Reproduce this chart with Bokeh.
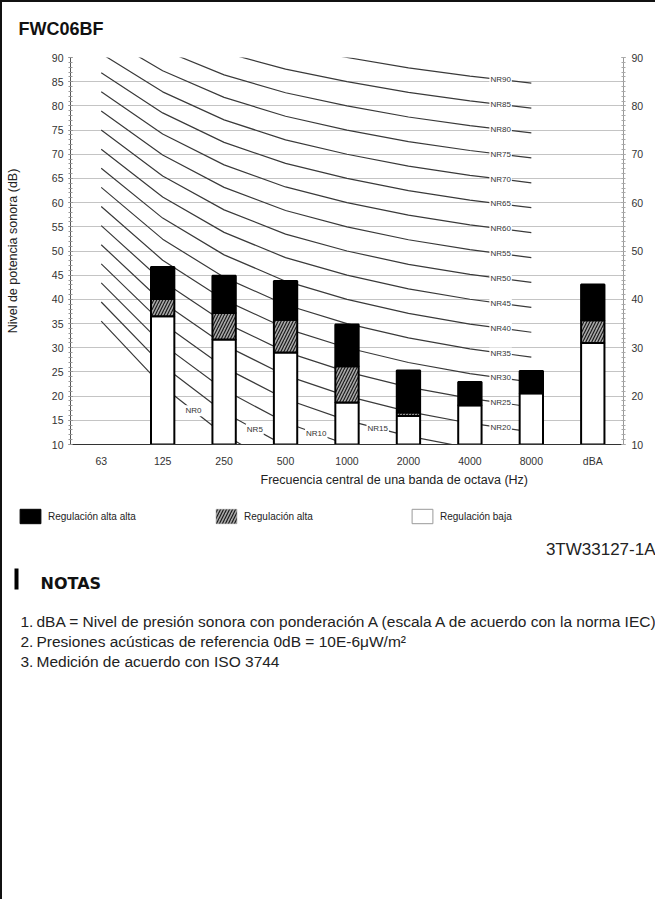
import numpy as np
from bokeh.plotting import figure
from bokeh.models import (Range1d, FixedTicker, SingleIntervalTicker, LinearAxis,
                          Legend, LegendItem, ColumnDataSource, Title)
from bokeh.embed import file_html
from bokeh.resources import INLINE
from bokeh.core.properties import value

# ---------------- data ----------------
categories = ["63", "125", "250", "500", "1000", "2000", "4000", "8000", "dBA"]
reg_baja = [None, 36.5, 31.7, 29.0, 18.7, 15.9, 18.1, 20.6, 31.0]
reg_alta = [None, 40.1, 37.2, 35.8, 26.2, 16.6, 18.1, 20.6, 35.7]
reg_alta_alta = [None, 46.7, 44.9, 43.8, 34.8, 25.3, 22.9, 25.2, 43.1]

# Noise Rating curves (octave bands 63..8000 Hz): L = a + b * NR
nr_bands = ["63", "125", "250", "500", "1000", "2000", "4000", "8000"]
nr_a = [35.5, 22.0, 12.0, 4.8, 0.0, -3.5, -6.1, -8.0]
nr_b = [0.790, 0.870, 0.930, 0.974, 1.000, 1.015, 1.025, 1.030]
nr_levels = [0, 5, 10, 15, 20, 25, 30, 35, 40, 45, 50, 55, 60, 65, 70, 75, 80, 85, 90]
# band index left of each NR label
nr_label_band = [1, 2, 3, 4, 6, 6, 6, 6, 6, 6, 6, 6, 6, 6, 6, 6, 6, 6, 6]

y_min, y_max = 10, 90

chart_title = "FWC06BF"
legend_labels = ["Regulación alta alta", "Regulación alta", "Regulación baja"]
doc_code = "3TW33127-1A"
notes_title = "NOTAS"
notes = [
    "dBA = Nivel de presión sonora con ponderación A (escala A de acuerdo con la norma IEC)",
    "Presiones acústicas de referencia 0dB = 10E-6μW/m²",
    "Medición de acuerdo con ISO 3744",
]

# ---------------- layout ----------------
W = 655
HH = 40
H1 = 462
H2 = 899 - HH - H1
FONT = "Liberation Sans"
BORDER = "2px solid #111111"

xpos = {c: i + 0.5 for i, c in enumerate(categories)}

# ---------------- header ----------------
h = figure(width=W, height=HH, x_range=Range1d(0, W), y_range=Range1d(HH, 0),
           x_axis_type=None, y_axis_type=None, output_backend="svg",
           toolbar_location=None, min_border=0)
h.outline_line_color = None
h.styles = {"border-left": BORDER, "border-top": BORDER}
h.text(x=[16], y=[26], text=[chart_title], text_font=value(FONT),
       text_font_size="18px", text_font_style="bold", text_color="#111111",
       text_align="left", text_baseline="middle")

# ---------------- chart ----------------
p = figure(width=W, height=H1, x_range=Range1d(0, len(categories)),
           y_range=Range1d(y_min, y_max), output_backend="svg", title=None,
           toolbar_location=None, min_border_left=65, min_border_right=34,
           min_border_top=17, min_border_bottom=58)
p.outline_line_color = None
p.background_fill_color = "white"
p.styles = {"border-left": BORDER}

# axes
p.xaxis.ticker = FixedTicker(ticks=[xpos[c] for c in categories])
p.xaxis.major_label_overrides = {xpos[c]: c for c in categories}
p.xaxis.major_tick_line_color = None
p.xaxis.minor_tick_line_color = None
p.xaxis.axis_line_color = "#333333"
p.xaxis.major_label_standoff = 4
p.xaxis.major_label_text_font = FONT
p.xaxis.major_label_text_font_size = "10.5px"
p.xaxis.major_label_text_color = "#333333"

xlabel = Title(text="Frecuencia central de una banda de octava (Hz)", align="left",
               offset=190, vertical_align="top", standoff=6,
               text_font=FONT, text_font_size="12.5px", text_font_style="normal",
               text_color="#222222")
p.add_layout(xlabel, "below")

p.yaxis.ticker = SingleIntervalTicker(interval=5, num_minor_ticks=5)
p.yaxis.axis_line_color = "#555555"
p.yaxis.major_tick_line_color = "#777777"
p.yaxis.minor_tick_line_color = "#999999"
p.yaxis.major_tick_in = 2
p.yaxis.major_tick_out = 2
p.yaxis.minor_tick_in = 2
p.yaxis.minor_tick_out = 2
p.yaxis.major_label_standoff = 5
p.yaxis.major_label_text_font = FONT
p.yaxis.major_label_text_font_size = "10.5px"
p.yaxis.major_label_text_color = "#333333"
p.yaxis.axis_label = "Nivel de potencia sonora (dB)"
p.yaxis.axis_label_text_font = FONT
p.yaxis.axis_label_text_font_size = "12.5px"
p.yaxis.axis_label_text_font_style = "normal"
p.yaxis.axis_label_text_color = "#222222"
p.yaxis.axis_label_standoff = 29

ry = LinearAxis(ticker=SingleIntervalTicker(interval=10, num_minor_ticks=10))
ry.axis_line_color = "#999999"
ry.major_tick_line_color = "#999999"
ry.minor_tick_line_color = "#aaaaaa"
ry.major_tick_in = 2
ry.major_tick_out = 2
ry.minor_tick_in = 2
ry.minor_tick_out = 2
ry.major_label_standoff = 6
ry.major_label_text_font = FONT
ry.major_label_text_font_size = "10.5px"
ry.major_label_text_color = "#333333"
p.add_layout(ry, "right")

p.xgrid.grid_line_color = None
p.ygrid.ticker = SingleIntervalTicker(interval=5)
p.ygrid.grid_line_color = "#c4c4c4"
p.ygrid.grid_line_width = 1

# NR curves
band_x = [xpos[b] for b in nr_bands]
nr_xs, nr_ys = [], []
for n in nr_levels:
    nr_xs.append(band_x)
    nr_ys.append([a + b * n for a, b in zip(nr_a, nr_b)])
p.multi_line(xs=nr_xs, ys=nr_ys, line_color="#3a3a3a", line_width=1.2)

# bars
idx = [i for i, v in enumerate(reg_baja) if v is not None]
src = ColumnDataSource(dict(
    x=[xpos[categories[i]] for i in idx],
    base=[y_min for _ in idx],
    low=[reg_baja[i] for i in idx],
    high=[reg_alta[i] for i in idx],
    top=[reg_alta_alta[i] for i in idx],
))
bw = 0.38
HATCH = dict(fill_color="#a8a8a8", hatch_pattern="/", hatch_color="#1a1a1a",
             hatch_scale=6, hatch_weight=1.2)
p.vbar(x="x", bottom="base", top="low", width=bw, source=src,
       fill_color="white", line_color="black", line_width=2)
p.vbar(x="x", bottom="low", top="high", width=bw, source=src,
       line_color="black", line_width=2, **HATCH)
p.vbar(x="x", bottom="high", top="top", width=bw, source=src,
       fill_color="black", line_color="black", line_width=2)

# NR labels
lab_x, lab_y, lab_t = [], [], []
for n, bi in zip(nr_levels, nr_label_band):
    y0 = nr_a[bi] + nr_b[bi] * n
    y1 = nr_a[bi + 1] + nr_b[bi + 1] * n
    lab_x.append(band_x[bi] + 0.5)
    lab_y.append((y0 + y1) / 2)
    lab_t.append("NR%d" % n)
p.text(x=lab_x, y=lab_y, text=lab_t, text_font=value(FONT), text_font_size="8px",
       text_color="#333333", text_align="center", text_baseline="middle",
       background_fill_color="white", padding=1)

# ---------------- legend + notes ----------------
q = figure(width=W, height=H2, x_range=Range1d(0, W), y_range=Range1d(H2, 0),
           x_axis_type=None, y_axis_type=None, output_backend="svg",
           toolbar_location=None, min_border=0)
q.outline_line_color = None
q.styles = {"border-left": BORDER}

# legend swatches (proxy renderers matching the bar styles; nothing drawn on the canvas)
e = dict(left=[np.nan], right=[np.nan], top=[np.nan], bottom=[np.nan])
s_aa = q.quad(fill_color="black", line_color="black", line_width=1, **e)
s_a = q.quad(line_color="#888888", line_width=0.5, **HATCH, **e)
s_b = q.quad(fill_color="white", line_color="#999999", line_width=1, **e)
legend = Legend(items=[LegendItem(label=legend_labels[0], renderers=[s_aa]),
                       LegendItem(label=legend_labels[1], renderers=[s_a]),
                       LegendItem(label=legend_labels[2], renderers=[s_b])],
                orientation="horizontal", location=(15, H2 - 23),
                glyph_width=26, glyph_height=18, label_standoff=5,
                label_width=165, spacing=0, padding=0, margin=0,
                border_line_color=None, background_fill_alpha=0,
                label_text_font=FONT, label_text_font_size="10px",
                label_text_color="#222222")
q.add_layout(legend, "center")

q.text(x=[W - 2], y=[47], text=[doc_code], text_font=value(FONT),
       text_font_size="17px", text_color="#222222", text_align="right",
       text_baseline="middle")
q.quad(left=[12], right=[16], top=[66], bottom=[87], fill_color="black", line_color=None)
q.text(x=[38], y=[81], text=[notes_title], text_font=value("DejaVu Sans"),
       text_font_size="16px", text_font_style="bold", text_color="#111111",
       text_align="left", text_baseline="middle")
note_y = [119, 139, 159]
q.text(x=[18] * len(notes), y=note_y, text=["%d." % (i + 1) for i in range(len(notes))],
       text_font=value(FONT), text_font_size="15.5px",
       text_color="#222222", text_align="left", text_baseline="middle")
q.text(x=[34] * len(notes), y=note_y, text=notes,
       text_font=value(FONT), text_font_size="15.5px",
       text_color="#222222", text_align="left", text_baseline="middle")

open("out.html", "w").write(file_html([h, p, q], INLINE))
